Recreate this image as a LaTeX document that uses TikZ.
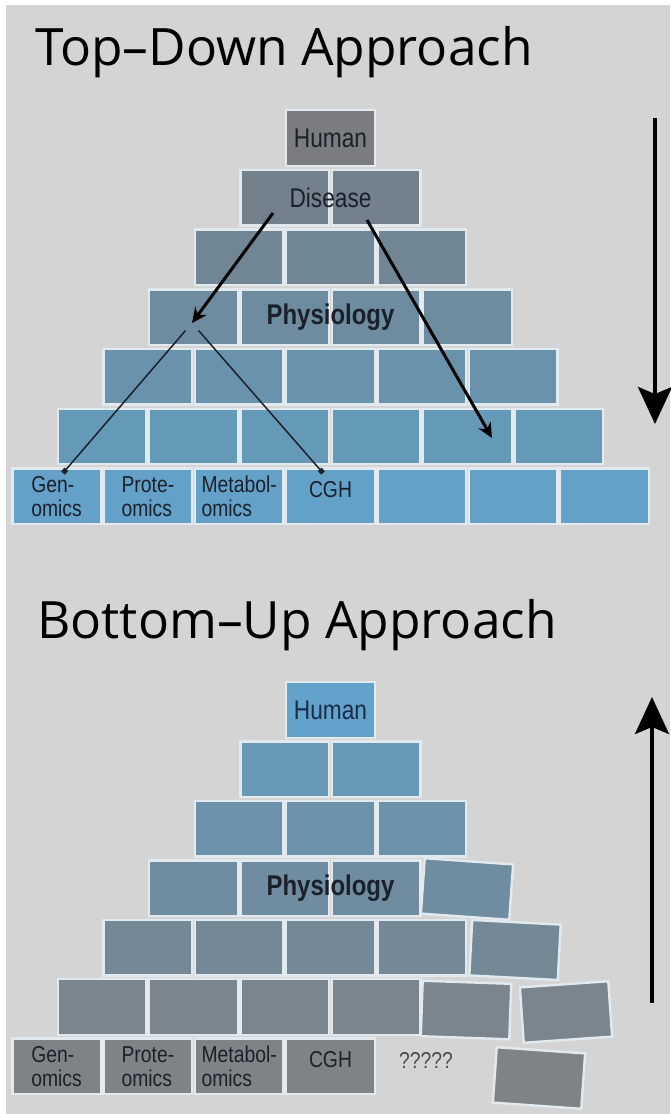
\documentclass[tikz,border=0pt]{standalone}
\usepackage{fontspec}
\setmainfont{Open Sans}
\newfontfamily\narrowfont[FakeStretch=0.84]{Liberation Sans}
\usetikzlibrary{arrows.meta, positioning, calc}
\definecolor{BG}{RGB}{212,212,212}
\definecolor{ED}{RGB}{226,234,239}
\definecolor{TX}{RGB}{26,33,42}
\definecolor{NV}{RGB}{24,45,70}
% top pyramid shades, grey at the top, blue at the base
\definecolor{T0}{RGB}{122,124,127}
\definecolor{T1}{RGB}{115,129,140}
\definecolor{T2}{RGB}{112,134,149}
\definecolor{T3}{RGB}{109,140,160}
\definecolor{T4}{RGB}{105,147,172}
\definecolor{T5}{RGB}{101,153,184}
\definecolor{T6}{RGB}{100,161,201}
% bottom pyramid shades, blue at the top, grey at the base
\definecolor{B0}{RGB}{99,162,203}
\definecolor{B1}{RGB}{104,153,185}
\definecolor{B2}{RGB}{108,146,171}
\definecolor{B3}{RGB}{111,140,161}
\definecolor{B4}{RGB}{117,136,150}
\definecolor{B5}{RGB}{122,133,142}
\definecolor{B6}{RGB}{128,131,134}

\begin{document}
\begin{tikzpicture}[x=1pt, y=-1pt,
  brick/.style={draw=ED, line width=2.4pt, fill=#1, minimum width=88.6pt,
                minimum height=55.5pt, inner sep=0pt},
  ttl/.style={font=\fontsize{51.5}{60}\selectfont, text=black, inner sep=0pt,
              anchor=base west},
  lbl/.style={font=\narrowfont\fontsize{27}{28}\selectfont, text=TX, inner sep=0pt},
  omic/.style={font=\narrowfont\fontsize{23}{24}\selectfont, text=TX, align=left,
               inner sep=0pt},
  phys/.style={font=\narrowfont\bfseries\fontsize{28.5}{30}\selectfont, text=TX,
               inner sep=0pt},
  bigarrow/.style={line width=3.5pt, draw=black,
                   -{Stealth[length=37pt, width=34pt, inset=7pt]}},
  link/.style={line width=3pt, draw=black, -{Stealth[length=15pt, width=14pt]}},
  thinlink/.style={line width=1.5pt, draw=TX, shorten <=10pt,
                   -{Square[length=5pt, width=5pt]}}
]
\useasboundingbox (0,0) rectangle (670,1114);
\fill[white] (0,0) rectangle (670,1114);
\fill[BG] (6,5) rectangle (670,1114);

% Titles
\node[ttl] (td-title) at (35,65)  {Top–Down Approach};
\node[ttl] (bu-title) at (37,638) {Bottom–Up Approach};

% Top pyramid
\foreach \r in {0,...,6} {
  \foreach \k in {0,...,\r} {
    \node[brick=T\r] (t\r-\k) at ({330.5+(\k-\r/2)*91.3}, {138+59.7*\r}) {};
  }
}

\node[lbl]  (hum-t) at (t0-0) {Human};
\node[lbl]  (dis-t) at ($(t1-0)!.5!(t1-1)$) {Disease};
\node[phys] (phy-t) at ($(t3-1)!.5!(t3-2)$) {Physiology};
\node[omic] (gen-t) at (t6-0) {Gen-\\omics};
\node[omic] (pro-t) at (t6-1) {Prote-\\omics};
\node[omic] (met-t) at (t6-2) {Metabol-\\omics};
\node[omic] (cgh-t) at ($(t6-3)+(0,-7)$) {CGH};

% Paths down the pyramid
\coordinate (dis-l)   at (273,213);
\coordinate (phys-l)  at (192,323);
\coordinate (dis-r)   at (367,220);
\coordinate (deep-r)  at (492,438);
\coordinate (gen-top) at (63,473);
\coordinate (cgh-top) at (323,473);
\draw[link] (dis-l) -- (phys-l);
\draw[link] (dis-r) -- (deep-r);
\draw[thinlink] (phys-l) -- (gen-top);
\draw[thinlink] (phys-l) -- (cgh-top);

\coordinate (td-a) at (655,118);
\coordinate (td-b) at (655,424);
\draw[bigarrow] (td-a) -- (td-b);

% Bottom pyramid
\foreach \r/\n in {0/0, 1/1, 2/2, 3/2, 4/3, 5/3, 6/3} {
  \foreach \k in {0,...,\n} {
    \node[brick=B\r] (b\r-\k) at ({330.5+(\k-\r/2)*91.3}, {710+59.4*\r}) {};
  }
}
% loose bricks on the right
\node[brick=B3, rotate=-4] (b3-3) at (467,889)  {};
\node[brick=B4, rotate=-3] (b4-4) at (515,950)  {};
\node[brick=B5, rotate=-2] (b5-4) at (466,1010) {};
\node[brick=B5, rotate=4]  (b5-5) at (566,1012) {};
\node[brick=B6, rotate=-4] (b6-x) at (539,1078) {};

\node[lbl, text=NV] (hum-b) at (b0-0) {Human};
\node[phys] (phy-b) at ($(b3-1)!.5!(b3-2)$) {Physiology};
\node[omic] (gen-b) at (b6-0) {Gen-\\omics};
\node[omic] (pro-b) at (b6-1) {Prote-\\omics};
\node[omic] (met-b) at (b6-2) {Metabol-\\omics};
\node[omic] (cgh-b) at ($(b6-3)+(0,-7)$) {CGH};
\node[omic, text=TX!80] (qq-b) at (426,1060) {?????};

\coordinate (bu-a) at (652,1003);
\coordinate (bu-b) at (652,697);
\draw[bigarrow] (bu-a) -- (bu-b);
\end{tikzpicture}
\end{document}
